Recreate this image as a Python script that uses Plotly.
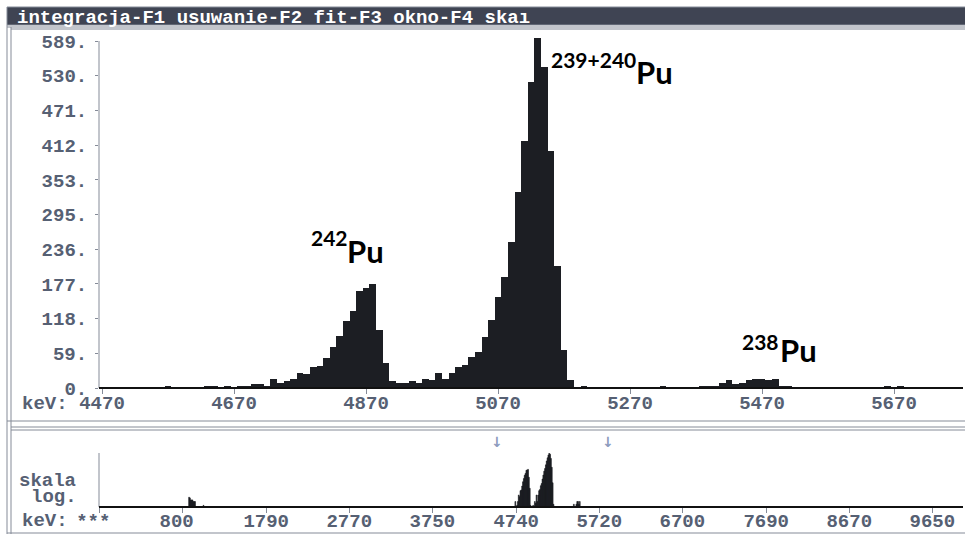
import numpy as np
import plotly.graph_objects as go

W, H = 965, 534

# ---------------- data ----------------
# main window: 10 keV bins, centres 4470 ... 5770 keV
energy_keV = list(range(4470, 5780, 10))
counts = [
    0, 0, 0, 1, 0, 0, 1, 0, 0, 1,            # 4470-4560
    4, 1, 0, 1, 0, 1, 4, 4, 1, 4,            # 4570-4660
    1, 4, 4, 6, 6, 3, 16, 8, 12, 16,         # 4670-4760
    26, 23, 36, 38, 51, 70, 89, 114, 131, 165,  # 4770-4860
    170, 177, 98, 43, 12, 8, 8, 12, 8, 16,   # 4870-4960
    14, 26, 16, 26, 36, 39, 52, 61, 86, 116,  # 4970-5060
    155, 189, 248, 332, 420, 520, 594, 545, 402, 207,  # 5070-5160
    65, 13, 1, 4, 1, 0, 0, 0, 0, 0,          # 5170-5260
    0, 0, 0, 0, 1, 4, 1, 0, 0, 1,            # 5270-5360
    1, 4, 4, 4, 8, 13, 6, 9, 13, 16,         # 5370-5460
    16, 13, 16, 4, 4, 1, 0, 0, 0, 0,         # 5470-5560
    0, 0, 0, 0, 0, 0, 0, 0, 0, 4,            # 5570-5660
    1, 4, 0, 0, 0, 0, 0, 0, 0, 0,            # 5670-5760
    0,                                       # 5770
]
# low-energy part of the full spectrum (overview window only)
low_energy_keV = [880, 890, 900, 910, 920, 930, 940, 950, 1050]
low_counts = [22, 21, 18, 18, 18, 16, 16, 16, 12]

y_tick_vals = [0, 58.9, 117.8, 176.7, 235.6, 294.5, 353.4, 412.3, 471.2, 530.1, 589]
y_tick_text = ["0.", "59.", "118.", "177.", "236.", "295.", "353.", "412.", "471.", "530.", "589."]
x_tick_vals = [4470, 4670, 4870, 5070, 5270, 5470, 5670]
x_tick_text = ["4470", "4670", "4870", "5070", "5270", "5470", "5670"]
ov_tick_vals = [-183, 800, 1790, 2770, 3750, 4740, 5720, 6700, 7690, 8670, 9650]
ov_tick_text = ["***\u00a0", "800\u00a0", "1790", "2770", "3750", "4740", "5720", "6700", "7690", "8670", "9650"]

title_text = "integracja-F1 usuwanie-F2 fit-F3 okno-F4 ska\u0131"
bin_width = 10

# ---------------- helpers ----------------
def px(x):
    return x / W

def py(y):
    return 1 - y / H

MONO = "Liberation Mono"
FS = 19
LABEL_COL = "#566073"
FRAME_COL = "#858b98"
BAR_COL = "#1c1e23"

fig = go.Figure()

# main spectrum
fig.add_trace(go.Bar(
    x=energy_keV, y=counts, width=bin_width,
    marker=dict(color=BAR_COL, line=dict(width=0)),
    xaxis="x", yaxis="y", hoverinfo="skip",
))

# overview (log) spectrum: build step polygons
def step_poly(centres, cnts):
    xs, ys = [], []
    for c, n in zip(centres, cnts):
        v = np.log10(n) if n > 0 else 0.0
        l, r = c - bin_width / 2, c + bin_width / 2
        xs += [l, l, r, r]
        ys += [0, v, v, 0]
    return xs, ys

ox, oy = step_poly(low_energy_keV + energy_keV, low_counts + counts)
fig.add_trace(go.Scatter(
    x=ox, y=oy, mode="lines", line=dict(width=0.6, color=BAR_COL),
    fill="tozeroy", fillcolor=BAR_COL,
    xaxis="x2", yaxis="y2", hoverinfo="skip",
))

x0_keV = 4470 - 3 / 0.66
x1_keV = x0_keV + 864 / 0.66
tickfont = dict(family=MONO, size=FS, color=LABEL_COL, weight="bold")

layout = dict(
    template="none",
    width=W, height=H,
    margin=dict(l=0, r=0, t=0, b=0, pad=0, autoexpand=False),
    paper_bgcolor="white", plot_bgcolor="white",
    showlegend=False, bargap=0,
    xaxis=dict(
        domain=[px(99), px(963)], range=[x0_keV, x1_keV],
        tickmode="array", tickvals=x_tick_vals, ticktext=x_tick_text,
        ticks="outside", ticklen=5, tickcolor=FRAME_COL, tickwidth=1,
        showgrid=False, zeroline=False, showline=False, automargin=False,
        tickfont=tickfont, ticklabelstandoff=-8,
        anchor="y",
    ),
    yaxis=dict(
        domain=[py(388), py(37)], range=[0, (388 - 37) / 0.589],
        tickmode="array", tickvals=y_tick_vals, ticktext=y_tick_text,
        ticks="outside", ticklen=3, tickcolor=FRAME_COL, tickwidth=1,
        showgrid=False, zeroline=False, showline=False, automargin=False,
        tickfont=tickfont, ticklabelstandoff=4,
        anchor="x",
    ),
    xaxis2=dict(
        domain=[px(99), px(963)], range=[-183, -183 + 864 / 0.084746],
        tickmode="array", tickvals=ov_tick_vals, ticktext=ov_tick_text,
        ticks="outside", ticklen=5, tickcolor=FRAME_COL, tickwidth=1,
        showgrid=False, zeroline=False, showline=False, automargin=False,
        tickfont=tickfont, ticklabelstandoff=-9,
        anchor="y2",
    ),
    yaxis2=dict(
        domain=[py(507), py(453)], range=[1.026, 2.78],
        showticklabels=False, ticks="",
        showgrid=False, zeroline=False, showline=False, automargin=False,
        anchor="x2",
    ),
)
fig.update_layout(**layout)

shapes = []
def line(x0, y0, x1, y1, color=FRAME_COL, width=1):
    shapes.append(dict(type="line", xref="paper", yref="paper",
                       x0=px(x0), y0=py(y0), x1=px(x1), y1=py(y1),
                       line=dict(color=color, width=width)))

# title bar
shapes.append(dict(type="rect", xref="paper", yref="paper",
                   x0=px(7), x1=px(966), y0=py(7), y1=py(25),
                   fillcolor="#3f4453", line=dict(color=FRAME_COL, width=1)))
# window frame (double lines)
line(7, 25, 7, 534)
line(11, 27, 11, 534)
line(7, 27, 965, 27)
line(11, 29, 965, 29)
line(7, 421, 965, 421)
line(11, 427, 965, 427)
line(11, 430, 965, 430)
line(7, 533, 965, 533)
# axes lines
line(99, 41, 99, 388)
line(99, 388, 963, 388, color="#111111", width=2)
line(99, 453, 99, 507)
line(99, 507, 963, 507, color="#111111", width=2)
fig.update_layout(shapes=shapes)

ann = []
def text(x, y, s, size=FS, color=LABEL_COL, family=MONO, xanchor="left", weight="bold"):
    ann.append(dict(xref="paper", yref="paper", x=px(x), y=py(y), text=s,
                    showarrow=False, xanchor=xanchor, yanchor="middle",
                    font=dict(family=family, size=size, color=color, weight=weight)))

text(15, 17.5, title_text, size=19, color="white")
text(20, 403.5, "keV:")
text(20, 521, "keV:")
text(17, 481, "skala")
text(29, 497, "log.")
text(497, 442, "\u2193", size=14, color="#8d9bbd", xanchor="center", family="DejaVu Sans")
text(608, 442, "\u2193", size=14, color="#8d9bbd", xanchor="center", family="DejaVu Sans")

# isotope labels
LBL = "Lato"
def iso(x_num, y_num, num, x_pu, y_pu):
    ann.append(dict(xref="paper", yref="paper", x=px(x_num), y=py(y_num), text=num,
                    showarrow=False, xanchor="left", yanchor="middle",
                    font=dict(family=LBL, size=21, color="black", weight="bold")))
    ann.append(dict(xref="paper", yref="paper", x=px(x_pu), y=py(y_pu), text="Pu",
                    showarrow=False, xanchor="left", yanchor="middle",
                    font=dict(family=LBL, size=31, color="black", weight="bold")))

iso(309, 237, "242", 345, 251)
iso(549, 59, "239+240", 634, 72)
iso(740, 341, "238", 778, 350)

fig.update_layout(annotations=ann)
fig.write_html(
    "out.html",
    config={"displayModeBar": False},
    post_script="document.body.style.margin='0px';document.body.style.overflow='hidden';",
)
